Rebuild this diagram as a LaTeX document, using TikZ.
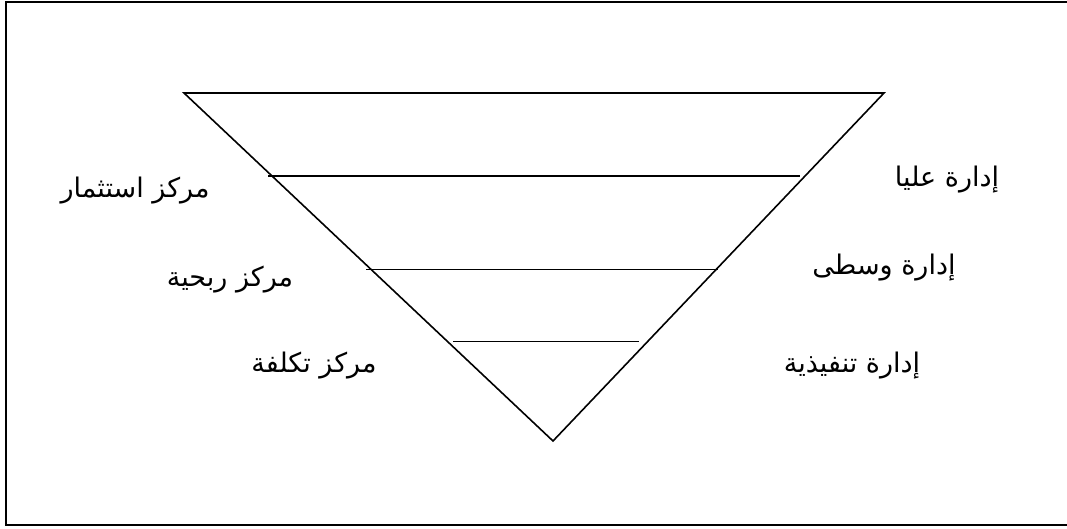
\documentclass[tikz,border=0pt]{standalone}
\usepackage{fontspec}
\newfontfamily\arabicfont[Script=Arabic]{DejaVu Sans}
\TeXXeTstate=1
\begin{document}
\begin{tikzpicture}[x=1pt,y=-1pt,
  lbl/.style={font=\arabicfont\fontsize{27}{32}\selectfont, inner sep=0pt, anchor=base},
  ln/.style={line width=1.6pt},
  frame/.style={line width=2pt}]
\useasboundingbox (0,0) rectangle (1067,529);
\draw[frame] (5.5,2.5) rectangle (1080,524.5);
\coordinate (tl) at (184,93);
\coordinate (tr) at (884,93);
\coordinate (ap) at (553,441);
\draw[ln, line join=miter] (tl) -- (tr) -- (ap) -- cycle;
\coordinate (a1) at (268,176); \coordinate (b1) at (800,176);
\coordinate (a2) at (366,269.5); \coordinate (b2) at (718,269.5);
\coordinate (a3) at (453,341.5); \coordinate (b3) at (639,341.5);
\draw[ln] (a1) -- (b1);
\draw[ln] (a2) -- (b2);
\draw[ln] (a3) -- (b3);
\node[lbl] (l1) at (135,198) {\beginR مركز استثمار\endR};
\node[lbl] (l2) at (230,286) {\beginR مركز ربحية\endR};
\node[lbl] (l3) at (314,372) {\beginR مركز تكلفة\endR};
\node[lbl] (r1) at (947,187) {\beginR إدارة عليا\endR};
\node[lbl] (r2) at (884,274) {\beginR إدارة وسطى\endR};
\node[lbl] (r3) at (852,372) {\beginR إدارة تنفيذية\endR};
\end{tikzpicture}
\end{document}
